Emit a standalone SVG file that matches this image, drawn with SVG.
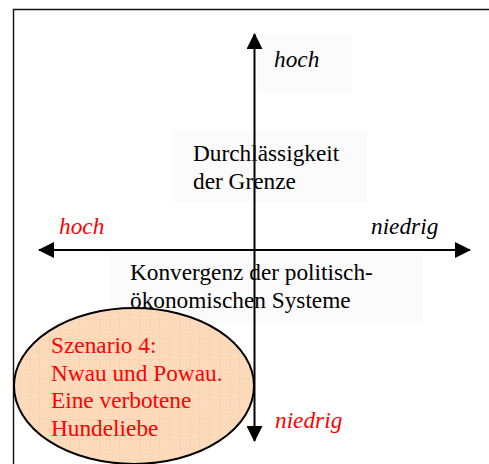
<svg xmlns="http://www.w3.org/2000/svg" width="489" height="464" viewBox="0 0 489 464">
<style>
text{font-family:"Liberation Serif","Times New Roman",serif;font-size:23.3px}
.it{font-style:italic}
.red{fill:#ff0000}
.blk{fill:#000}
.box{fill:#fbfbfb}
.ax{stroke:#000;stroke-width:2;fill:none}
</style>
<defs>
<marker id="ah" viewBox="0 0 16 16" refX="15" refY="8" markerWidth="16" markerHeight="16" markerUnits="userSpaceOnUse" orient="auto-start-reverse">
<path d="M0,0 L16,8 L0,16 Z" fill="#000"/>
</marker>
<pattern id="grid" width="10" height="10" patternUnits="userSpaceOnUse">
<rect width="10" height="10" fill="#fcdbbd"/>
<path d="M10,0 L10,10 M0,10 L10,10" stroke="#f9ca9e" stroke-width="0.7" fill="none"/>
</pattern>
</defs>
<g id="frame">
<path d="M13.5,464 L13.5,9.5 L489,9.5" fill="none" stroke="#111" stroke-width="1.4"/>
</g>
<g id="label-boxes">
<rect class="box" x="257" y="34" width="95" height="59"/>
<rect class="box" x="173" y="130" width="194" height="72"/>
<rect class="box" x="110" y="253" width="313" height="70"/>
</g>
<g id="scenario4">
<ellipse cx="134" cy="386" rx="120" ry="78" fill="url(#grid)" stroke="#000" stroke-width="2"/>
<text class="red" x="51" y="352.5">Szenario 4:</text>
<text class="red" x="51" y="380.5">Nwau und Powau.</text>
<text class="red" x="51" y="408">Eine verbotene</text>
<text class="red" x="51" y="435.5">Hundeliebe</text>
</g>
<g id="label-durchlaessigkeit">
<text class="blk" x="193" y="161">Durchlässigkeit</text>
<text class="blk" x="193" y="188.5">der Grenze</text>
</g>
<g id="label-konvergenz">
<text class="blk" x="130" y="280">Konvergenz der politisch-</text>
<text class="blk" x="130" y="307.5">ökonomischen Systeme</text>
</g>
<g id="axis-labels">
<text class="it blk" x="274" y="66.5">hoch</text>
<text class="it red" x="275" y="428">niedrig</text>
<text class="it red" x="59" y="234">hoch</text>
<text class="it blk" x="371" y="234">niedrig</text>
</g>
<g id="connectors">
<line class="ax" x1="254.5" y1="250" x2="254.5" y2="34" marker-end="url(#ah)"/>
<line class="ax" x1="254.5" y1="250" x2="254.5" y2="441" marker-end="url(#ah)"/>
<line class="ax" x1="39" y1="250" x2="470" y2="250" marker-start="url(#ah)" marker-end="url(#ah)"/>
</g>
</svg>
